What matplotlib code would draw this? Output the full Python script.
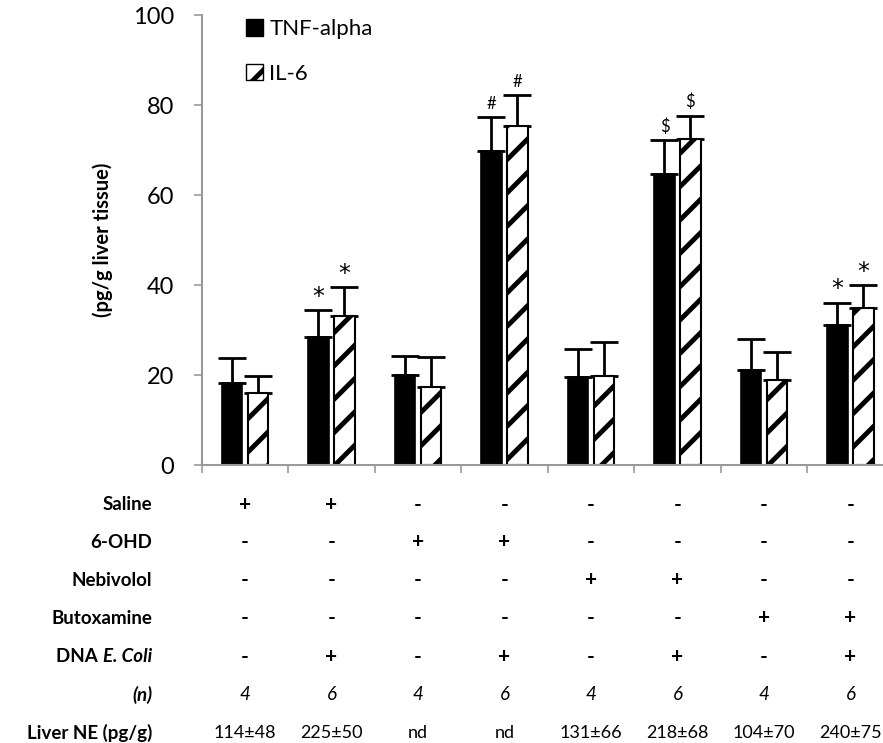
import matplotlib
matplotlib.use("Agg")
import matplotlib.pyplot as plt
from matplotlib.patches import Patch
import numpy as np

plt.rcParams['font.family'] = ['Lato', 'DejaVu Sans']
plt.rcParams['hatch.linewidth'] = 3.5

# data
tnf = [18.2, 28.5, 20.1, 69.8, 19.5, 64.6, 21.1, 31.1]
tnf_err = [5.5, 5.9, 4.1, 7.5, 6.2, 7.6, 6.8, 5.0]
il6 = [15.9, 33.2, 17.3, 75.4, 19.8, 72.4, 18.9, 35.0]
il6_err = [3.9, 6.3, 6.6, 6.8, 7.6, 5.2, 6.3, 4.9]
tnf_marks = ['', '*', '', '#', '', '$', '', '*']
il6_marks = ['', '*', '', '#', '', '$', '', '*']

row_labels = ['Saline', '6-OHD', 'Nebivolol', 'Butoxamine', 'DNA E. Coli', '(n)', 'Liver NE (pg/g)']
saline = ['+', '+', '-', '-', '-', '-', '-', '-']
ohd = ['-', '-', '+', '+', '-', '-', '-', '-']
nebivolol = ['-', '-', '-', '-', '+', '+', '-', '-']
butoxamine = ['-', '-', '-', '-', '-', '-', '+', '+']
dna_ecoli = ['-', '+', '-', '+', '-', '+', '-', '+']
n_vals = ['4', '6', '4', '6', '4', '6', '4', '6']
liver_ne = ['114±48', '225±50', 'nd', 'nd', '131±66', '218±68', '104±70', '240±75']

W, H = 883, 743
fig = plt.figure(figsize=(W / 100, H / 100), dpi=100)
ax = fig.add_axes([201.7 / W, 278 / H, 692 / W, 450 / H])

x = np.arange(len(tnf))
bw = 0.24
off = 0.15
ax.bar(x - off, tnf, bw, color='black', edgecolor='black', linewidth=1.2, zorder=2)
ax.bar(x + off, il6, bw, color='white', edgecolor='black', hatch='/', linewidth=1.5, zorder=2)
ax.errorbar(x - off, tnf, yerr=[np.zeros(len(tnf)), tnf_err], fmt='none', ecolor='black',
            elinewidth=2, capsize=10, capthick=2, zorder=1)
ax.errorbar(x + off, il6, yerr=[np.zeros(len(il6)), il6_err], fmt='none', ecolor='black',
            elinewidth=2, capsize=10, capthick=2, zorder=1)

for i in range(len(tnf)):
    for xx, top, m in [(x[i] - off, tnf[i] + tnf_err[i], tnf_marks[i]),
                       (x[i] + off, il6[i] + il6_err[i], il6_marks[i])]:
        if m == '*':
            ax.text(xx, top + 0.3, m, ha='center', va='bottom', fontsize=17, family='DejaVu Sans')
        elif m:
            ax.text(xx, top + 1.2, m, ha='center', va='bottom', fontsize=12)

ax.set_xlim(-0.5, 7.5)
ax.set_ylim(0, 100)
ax.set_yticks(range(0, 101, 20))
ax.set_xticks(np.arange(-0.5, 8, 1))
ax.set_xticklabels([])
ax.tick_params(axis='y', direction='out', length=6, color='#999999', width=1.2, labelsize=17, pad=14)
ax.tick_params(axis='x', direction='out', length=6, color='#999999', width=1.2)
for s in ['top', 'right']:
    ax.spines[s].set_visible(False)
for s in ['left', 'bottom']:
    ax.spines[s].set_color('#999999')
    ax.spines[s].set_linewidth(1.5)
ax.set_ylabel('(pg/g liver tissue)', fontsize=14.5, fontweight='bold', labelpad=14)

handles = [Patch(facecolor='black', edgecolor='black'),
           Patch(facecolor='white', edgecolor='black', hatch='/')]
ax.legend(handles, ['TNF-alpha', 'IL-6'], loc='upper left', bbox_to_anchor=(0.035, 1.035),
          frameon=False, fontsize=16, handlelength=0.75, handleheight=0.75,
          handletextpad=0.3, labelspacing=1.1)

# treatment table under the axis
rows = [saline, ohd, nebivolol, butoxamine, dna_ecoli, n_vals, liver_ne]
row_y = [505, 542, 580, 618, 657, 695, 733]
xd = ax.transData
renderer = fig.canvas.get_renderer()
for r, (lab, vals, py) in enumerate(zip(row_labels, rows, row_y)):
    fy = 1 - py / H
    if lab == 'DNA E. Coli':
        t = fig.text(152 / W, fy, 'E. Coli', ha='right', va='center', fontsize=13.5,
                     fontweight='bold', style='italic')
        bb = t.get_window_extent(renderer)
        fig.text(bb.x0 / W, fy, 'DNA ', ha='right', va='center', fontsize=13.5, fontweight='bold')
    elif lab == '(n)':
        fig.text(152 / W, fy, lab, ha='right', va='center', fontsize=13.5, fontweight='bold',
                 style='italic')
    else:
        fig.text(152 / W, fy, lab, ha='right', va='center', fontsize=13.5, fontweight='bold')
    for i, v in enumerate(vals):
        px = xd.transform((x[i], 0))[0]
        if v in ('+', '-'):
            fig.text(px / W, fy, v, ha='center', va='center', fontsize=15, fontweight='bold')
        elif lab == '(n)':
            fig.text(px / W, fy, v, ha='center', va='center', fontsize=13.5, style='italic')
        else:
            fig.text(px / W, fy, v, ha='center', va='center', fontsize=13)

fig.savefig('out.png', dpi=100)
